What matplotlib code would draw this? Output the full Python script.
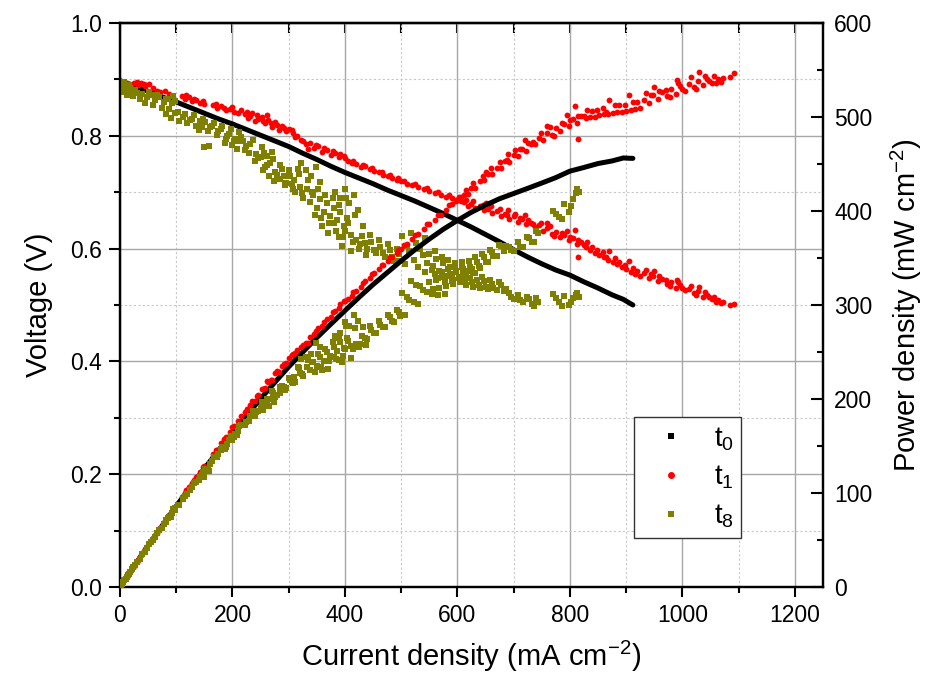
import matplotlib
matplotlib.use("Agg")
import matplotlib.pyplot as plt
import numpy as np
from matplotlib.ticker import MultipleLocator, FormatStrFormatter
from matplotlib.lines import Line2D

plt.rcParams['font.family'] = ['Liberation Sans', 'DejaVu Sans']
plt.rcParams['mathtext.fontset'] = 'custom'
plt.rcParams['mathtext.rm'] = 'Liberation Sans'
plt.rcParams['mathtext.it'] = 'Liberation Sans'

# ---------------- data ----------------
series_labels = [r'$\mathregular{t_0}$', r'$\mathregular{t_1}$', r'$\mathregular{t_8}$']
series_colors = ['#000000', '#ff0000', '#808000']

t0_current = [0, 25, 50, 75, 100, 125, 150, 175, 200, 225, 250, 275, 300, 325, 350, 375,
              400, 425, 450, 475, 500, 525, 550, 575, 600, 625, 650, 675, 700, 725, 750,
              775, 800, 825, 850, 875, 895, 905, 912]
t0_voltage = [0.898, 0.888, 0.879, 0.869, 0.860, 0.850, 0.840, 0.830, 0.821, 0.811, 0.801,
              0.791, 0.781, 0.769, 0.758, 0.746, 0.735, 0.725, 0.715, 0.704, 0.694, 0.684,
              0.673, 0.662, 0.650, 0.638, 0.625, 0.612, 0.598, 0.585, 0.573, 0.562, 0.553,
              0.541, 0.530, 0.518, 0.510, 0.504, 0.500]

t1_current = [12, 18, 25, 32, 38, 45, 52, 65, 72, 80, 88,
              110, 116, 122, 128, 135, 142, 148, 165, 172, 180, 188, 195, 203,
              215, 222, 228, 235, 240, 246, 252, 258, 264, 270, 276, 282, 288, 295, 300, 308,
              315, 322, 330, 338, 345, 352, 360, 368, 375, 382, 390, 398,
              405, 412, 420, 428, 436, 444, 452, 460, 468, 476, 484, 492, 500, 510, 520, 530,
              540, 550, 560, 570, 580, 590, 598, 606,
              612, 618, 625, 632, 640, 648, 655, 662, 670, 678, 685, 692, 700, 708, 715, 722,
              730, 738, 745, 752, 760, 768, 775, 782, 790, 798, 805, 812, 820, 828, 836, 844,
              852, 860, 868, 876, 884, 892, 900, 908, 916, 924, 932, 940, 948, 956, 964, 972,
              980, 988, 996, 1004, 1012, 1020, 1028, 1036, 1044, 1052, 1060, 1068, 1085, 1092,
              650, 690, 720, 760, 795, 809, 814, 830, 870, 905, 950, 990, 1030,
              20, 30, 42, 58, 118, 132, 150, 170, 185, 200, 210, 225, 232, 243, 255, 262,
              268, 280, 292, 305, 312, 326, 335, 348, 363, 378, 392, 400, 415, 432, 448, 465,
              480, 495, 505, 525, 545, 565, 585, 602,
              615, 628, 645, 660, 675, 688, 702, 712, 726, 735, 748, 765, 772, 786, 800, 815,
              825, 840, 848, 858, 864, 880, 888, 898, 912, 920, 936, 944, 958, 970, 978, 992,
              1000, 1016, 1024, 1040, 1048, 1056, 1064, 1072]
t1_voltage = [0.893, 0.891, 0.894, 0.890, 0.893, 0.889, 0.891, 0.880, 0.877, 0.879, 0.874,
              0.870, 0.866, 0.868, 0.862, 0.864, 0.859, 0.861, 0.855, 0.850, 0.852, 0.846, 0.848, 0.843,
              0.845, 0.838, 0.832, 0.840, 0.826, 0.830, 0.834, 0.822, 0.828, 0.815, 0.824, 0.810,
              0.818, 0.808, 0.812, 0.805,
              0.800, 0.792, 0.785, 0.788, 0.779, 0.782, 0.772, 0.775, 0.766, 0.770, 0.762, 0.765,
              0.756, 0.752, 0.750, 0.745, 0.747, 0.741, 0.738, 0.735, 0.731, 0.728, 0.725, 0.722,
              0.719, 0.715, 0.712, 0.709, 0.705, 0.702, 0.698, 0.695, 0.692, 0.690, 0.687, 0.684,
              0.682, 0.676, 0.679, 0.672, 0.675, 0.668, 0.671, 0.663, 0.666, 0.658, 0.662, 0.653,
              0.657, 0.648, 0.652, 0.643, 0.646, 0.638, 0.641, 0.632, 0.636, 0.626, 0.630, 0.620,
              0.624, 0.615, 0.618, 0.608, 0.611, 0.602, 0.598, 0.593, 0.589, 0.585, 0.580, 0.576,
              0.572, 0.567, 0.563, 0.559, 0.555, 0.551, 0.556, 0.548, 0.552, 0.543, 0.546, 0.537,
              0.541, 0.531, 0.535, 0.526, 0.529, 0.521, 0.524, 0.515, 0.518, 0.510, 0.506, 0.503,
              0.500, 0.501,
              0.680, 0.668, 0.660, 0.645, 0.632, 0.633, 0.585, 0.612, 0.595, 0.578, 0.560, 0.545, 0.532,
              0.887, 0.896, 0.892, 0.884, 0.872, 0.866, 0.857, 0.857, 0.849, 0.851, 0.840, 0.842,
              0.835, 0.836, 0.826, 0.836, 0.822, 0.820, 0.814, 0.810, 0.798, 0.790, 0.776, 0.784,
              0.778, 0.773, 0.768, 0.760, 0.755, 0.748, 0.743, 0.736, 0.731, 0.725, 0.720, 0.714,
              0.708, 0.700, 0.695, 0.690,
              0.686, 0.684, 0.678, 0.675, 0.670, 0.660, 0.662, 0.655, 0.651, 0.644, 0.646, 0.640,
              0.622, 0.628, 0.621, 0.615, 0.607, 0.603, 0.598, 0.594, 0.585, 0.583, 0.577, 0.571,
              0.566, 0.561, 0.562, 0.555, 0.551, 0.545, 0.533, 0.540, 0.530, 0.534, 0.517, 0.523,
              0.514, 0.515, 0.508, 0.505]

t8_current = [2, 6, 10, 14, 18, 22, 27, 40, 48, 55, 62, 70, 78, 85, 92, 98,
              82, 90, 98, 105, 112, 120, 128, 136, 142, 146, 150, 158,
              152, 160, 168, 175, 182, 190, 198, 205, 212, 218,
              188, 200, 210, 222, 232, 242, 252, 262, 270,
              230, 240, 250, 258, 266, 275, 284, 292, 300, 310, 318,
              255, 265, 274, 285, 296,
              305, 312, 320, 326, 332, 338, 344, 350, 356, 362, 368, 374, 380, 386, 392, 398, 404,
              322, 330, 340, 348, 355,
              360, 370, 380, 390, 400, 410, 420, 430,
              382, 392, 400, 408, 416, 424,
              395, 410, 425, 438,
              435, 445, 452, 460, 468, 476, 484, 492, 498,
              502, 510, 518, 526, 534, 542,
              550, 556, 562, 568, 574, 580, 586, 592, 598, 604, 610, 616, 622, 628, 634, 640,
              648, 655, 662, 670, 678, 686,
              692, 700, 708, 716, 724, 732, 740, 770, 780, 790, 798, 806, 812, 816,
              4, 8, 12, 16, 24, 30, 35, 44, 52, 58, 66, 74, 82, 88, 95,
              104, 116, 124, 132, 140, 148, 156, 164, 172, 180, 186, 194, 202, 208, 216, 224,
              236, 246, 256, 262, 272, 280, 288, 294, 302, 308, 316, 324, 334, 342, 346, 352,
              358, 364, 372, 378, 384, 390, 396, 402, 406, 414, 418, 426, 432, 440, 446, 456,
              462, 472, 480, 488, 496, 506, 514, 522, 530, 538, 546, 554, 560, 566, 572, 578,
              584, 590, 596, 602, 608, 614, 620, 626, 632, 638, 644, 650, 658, 664, 674, 682,
              696, 712, 728, 736, 744, 775, 786, 802, 810]
t8_voltage = [0.892, 0.886, 0.889, 0.880, 0.884, 0.876, 0.881, 0.874, 0.868, 0.872, 0.864,
              0.869, 0.860, 0.866, 0.858, 0.862,
              0.838, 0.832, 0.840, 0.826, 0.834, 0.822, 0.830, 0.818, 0.826, 0.815, 0.780, 0.782,
              0.825, 0.815, 0.822, 0.808, 0.818, 0.800, 0.812, 0.795, 0.806, 0.790,
              0.795, 0.784, 0.790, 0.775, 0.786, 0.768, 0.780, 0.764, 0.772,
              0.770, 0.756, 0.762, 0.745, 0.752, 0.735, 0.748, 0.728, 0.740, 0.722, 0.732,
              0.740, 0.728, 0.720, 0.724, 0.716,
              0.715, 0.700, 0.710, 0.690, 0.705, 0.682, 0.695, 0.672, 0.688, 0.665, 0.680, 0.658,
              0.672, 0.650, 0.665, 0.640, 0.655,
              0.752, 0.740, 0.728, 0.745, 0.718,
              0.640, 0.628, 0.645, 0.620, 0.632, 0.625, 0.615, 0.622,
              0.700, 0.690, 0.706, 0.680, 0.695, 0.668,
              0.605, 0.595, 0.600, 0.588,
              0.610, 0.625, 0.598, 0.615, 0.592, 0.608, 0.585, 0.600, 0.578,
              0.622, 0.605, 0.628, 0.610, 0.600, 0.618,
              0.590, 0.570, 0.582, 0.560, 0.575, 0.552, 0.568, 0.545, 0.560, 0.540, 0.555, 0.535,
              0.548, 0.532, 0.545, 0.530, 0.542, 0.528, 0.538, 0.526, 0.535, 0.529,
              0.522, 0.510, 0.518, 0.505, 0.514, 0.502, 0.512, 0.520, 0.505, 0.516, 0.500, 0.512,
              0.522, 0.515,
              0.878, 0.895, 0.872, 0.890, 0.870, 0.876, 0.866, 0.858, 0.878, 0.855, 0.872, 0.850,
              0.865, 0.848, 0.870,
              0.842, 0.838, 0.828, 0.836, 0.810, 0.830, 0.808, 0.818, 0.802, 0.812, 0.788, 0.804,
              0.790, 0.776, 0.798, 0.782,
              0.792, 0.760, 0.770, 0.748, 0.758, 0.730, 0.742, 0.712, 0.728, 0.705, 0.742, 0.698,
              0.722, 0.700, 0.660, 0.705,
              0.654, 0.695, 0.645, 0.690, 0.632, 0.678, 0.620, 0.690, 0.645, 0.612, 0.660, 0.608,
              0.640, 0.600, 0.612, 0.592,
              0.603, 0.585, 0.598, 0.578, 0.590, 0.572, 0.595, 0.580, 0.568, 0.588, 0.575, 0.562,
              0.595, 0.548, 0.585, 0.540,
              0.580, 0.552, 0.575, 0.548, 0.568, 0.545, 0.560, 0.540, 0.556, 0.536, 0.550, 0.532,
              0.545, 0.530, 0.540, 0.524,
              0.515, 0.508, 0.510, 0.498, 0.506, 0.512, 0.498, 0.505, 0.518]

currents = [np.array(t0_current, float), np.array(t1_current, float), np.array(t8_current, float)]
voltages = [np.array(t0_voltage), np.array(t1_voltage), np.array(t8_voltage)]
# power density (mW cm-2) = current density (mA cm-2) x voltage (V)
powers = [c * v for c, v in zip(currents, voltages)]

# ---------------- figure ----------------
fig = plt.figure(figsize=(9.29, 6.81), dpi=100)
ax = fig.add_axes([120 / 929, 1 - 587 / 681, 703 / 929, 564 / 681])
ax2 = ax.twinx()

# t0: dense continuous measurement -> thick line of points
ax.plot(currents[0], voltages[0], color=series_colors[0], lw=3.6, solid_capstyle='round', zorder=3)
ax2.plot(currents[0], powers[0], color=series_colors[0], lw=3.6, solid_capstyle='round', zorder=3)
# t1 and t8 scattered points
ax.plot(currents[1], voltages[1], 'o', color=series_colors[1], ms=4.2, mew=0, zorder=4)
ax2.plot(currents[1], powers[1], 'o', color=series_colors[1], ms=4.2, mew=0, zorder=4)
ax.plot(currents[2], voltages[2], 's', color=series_colors[2], ms=4.2, mew=0, zorder=5)
ax2.plot(currents[2], powers[2], 's', color=series_colors[2], ms=4.2, mew=0, zorder=5)

ax.set_xlim(0, 1250)
ax.set_ylim(0, 1.0)
ax2.set_ylim(0, 600)

ax.xaxis.set_major_locator(MultipleLocator(200))
ax.xaxis.set_minor_locator(MultipleLocator(100))
ax.yaxis.set_major_locator(MultipleLocator(0.2))
ax.yaxis.set_minor_locator(MultipleLocator(0.1))
ax.yaxis.set_major_formatter(FormatStrFormatter('%.1f'))
ax2.yaxis.set_major_locator(MultipleLocator(100))
ax2.yaxis.set_minor_locator(MultipleLocator(50))

ax.grid(which='major', color='#a8a8a8', lw=1.0, ls='-')
ax.grid(which='minor', color='#c8c8c8', lw=0.8, ls=(0, (2, 2)))
ax.set_axisbelow(True)

for a in (ax, ax2):
    for s in a.spines.values():
        s.set_linewidth(1.6)
        s.set_color('black')

ax.tick_params(axis='x', which='major', direction='out', length=7.5, width=1.5,
               labelsize=16.5, pad=5, top=False)
ax.tick_params(axis='x', which='minor', direction='out', length=4, width=1.5, top=False)
ax.tick_params(axis='y', which='major', direction='out', length=8, width=1.5,
               labelsize=16.5, pad=5, right=False)
ax.tick_params(axis='y', which='minor', direction='out', length=4, width=1.5, right=False)
ax2.tick_params(axis='y', which='major', direction='in', length=8.5, width=1.5,
                labelsize=16.5, pad=8)
ax2.tick_params(axis='y', which='minor', direction='in', length=4, width=1.5)

secx = ax.secondary_xaxis('top')
secx.set_xticks(np.arange(0, 1300, 100))
secx.tick_params(direction='in', length=7.5, width=1.5, labeltop=False)
secx.spines['top'].set_linewidth(1.6)

ax.set_xlabel(r'Current density (mA cm$\mathregular{^{-2}}$)', fontsize=21, labelpad=8)
ax.set_ylabel('Voltage (V)', fontsize=21, labelpad=12)
ax2.set_ylabel(r'Power density (mW cm$\mathregular{^{-2}}$)', fontsize=21, labelpad=12)

handles = [
    Line2D([], [], ls='none', marker='s', color=series_colors[0], ms=5, mew=0),
    Line2D([], [], ls='none', marker='o', color=series_colors[1], ms=5, mew=0),
    Line2D([], [], ls='none', marker='s', color=series_colors[2], ms=5, mew=0),
]
leg = ax2.legend(handles, series_labels, loc='upper left', bbox_to_anchor=(0.731, 0.301),
                 borderaxespad=0, fontsize=20, frameon=True, fancybox=False,
                 edgecolor='#333333', framealpha=1, handlelength=2.1, handletextpad=0.49,
                 borderpad=0.28, labelspacing=0.4)
leg.get_frame().set_linewidth(1.0)

fig.savefig('out.png', dpi=100)
